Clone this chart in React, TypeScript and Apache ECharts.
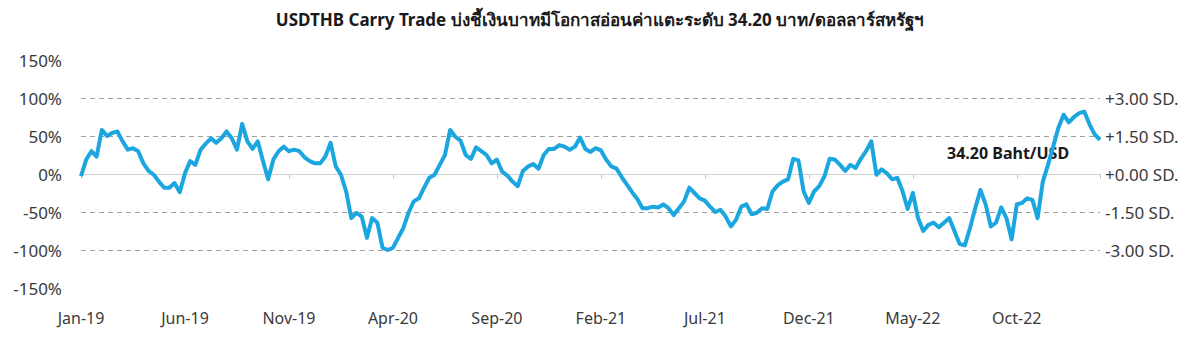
import React, { useEffect, useRef } from "react";
import * as echarts from "echarts";

const TITLE = "USDTHB Carry Trade บ่งชี้เงินบาทมีโอกาสอ่อนค่าแตะระดับ 34.20 บาท/ดอลลาร์สหรัฐฯ";
const ANNOTATION = "34.20 Baht/USD";

// x axis: months since Jan-19, sampled four times per month
const POINTS_PER_MONTH = 4;
const X_MAX_MONTHS = 49;
const MONTH_TICK_STEP = 5;
const monthTickLabels = ["Jan-19", "Jun-19", "Nov-19", "Apr-20", "Sep-20", "Feb-21", "Jul-21", "Dec-21", "May-22", "Oct-22"];

// y axis
const yTickValues = [-150, -100, -50, 0, 50, 100, 150];
const leftTickLabels = ["-150%", "-100%", "-50%", "0%", "50%", "100%", "150%"];
const rightTickLabels = ["", "-3.00 SD.", "-1.50 SD.", "+0.00 SD.", "+1.50 SD.", "+3.00 SD.", ""];
const dashedGridValues = [-100, -50, 50, 100];

// Carry trade index (%)
const carry2019a = [-3, 19, 30, 23, 58, 50, 54, 56, 43, 32, 34, 30, 14, 4, -1, -10, -18, -18, -12, -24, 1, 17, 12, 32, 40];
const carry2019b = [47, 41, 47, 56, 47, 32, 66, 43, 33, 43, 17, -7, 19, 30, 36, 30, 32, 30, 22, 17, 14, 14, 23, 41];
const carry2020a = [10, -1, -23, -58, -51, -56, -84, -58, -64, -97, -100, -97, -84, -71, -51, -36, -32, -18, -5, -1, 12, 25, 58, 49];
const carry2020b = [44, 25, 20, 35, 30, 25, 14, 19, 3, -2, -10, -16, 4, 10, 13, 7, 25, 33, 33, 38, 36, 32, 36, 48];
const carry2021a = [33, 29, 34, 31, 19, 10, 7, -4, -14, -24, -33, -45, -45, -43, -44, -40, -45, -54, -45, -36, -18, -25, -32, -35];
const carry2021b = [-43, -50, -47, -56, -69, -60, -43, -40, -53, -51, -45, -46, -23, -15, -10, -7, 20, 18, -23, -38, -23, -16, -3, 20];
const carry2022a = [19, 12, 4, 12, 8, 20, 30, 43, -1, 6, 1, -7, -5, -22, -46, -25, -58, -75, -67, -64, -70, -64, -58, -75];
const carry2022b = [-92, -94, -71, -45, -21, -40, -69, -64, -44, -58, -86, -40, -38, -32, -34, -58, -10, 12, 36, 61, 78, 68, 75, 80, 82, 65, 52, 45];

const carryValues = [
  ...carry2019a, ...carry2019b, ...carry2020a, ...carry2020b,
  ...carry2021a, ...carry2021b, ...carry2022a, ...carry2022b,
];

const FONT = "'Noto Sans', 'DejaVu Sans', sans-serif";
const LABEL_COLOR = "#3a3a3a";
const LINE_COLOR = "#1ba6e0";

export default function App() {
  const ref = useRef<HTMLDivElement>(null);

  useEffect(() => {
    if (!ref.current) return;
    const chart = echarts.init(ref.current, null, { renderer: "svg" });
    const seriesData = carryValues.map((v, i) => [i / POINTS_PER_MONTH, v]);
    const tickLabel = (labels: string[]) => (v: number) => {
      const idx = yTickValues.indexOf(v);
      return idx >= 0 ? labels[idx] : "";
    };

    chart.setOption({
      animation: false,
      backgroundColor: "#ffffff",
      title: {
        text: TITLE,
        left: "center",
        top: 6,
        textStyle: { fontFamily: FONT, fontSize: 17, fontWeight: "bold", color: "#1a1a1a" },
      },
      grid: { left: 81, right: 100, top: 60, bottom: 60, containLabel: false },
      xAxis: [
        {
          type: "value",
          min: 0,
          max: X_MAX_MONTHS,
          interval: MONTH_TICK_STEP,
          position: "bottom",
          axisLine: { show: false, onZero: false },
          axisTick: { show: false },
          splitLine: { show: false },
          axisLabel: {
            fontFamily: FONT,
            fontSize: 16,
            color: LABEL_COLOR,
            margin: 22,
            showMaxLabel: false,
            formatter: (v: number) => (v % MONTH_TICK_STEP === 0 ? monthTickLabels[v / MONTH_TICK_STEP] ?? "" : ""),
          },
        },
        {
          type: "value",
          min: 0,
          max: X_MAX_MONTHS,
          interval: MONTH_TICK_STEP,
          position: "top",
          axisLine: { show: true, onZero: true, lineStyle: { color: "#d0d0d0", width: 1 } },
          axisTick: { show: true, inside: true, length: 5, lineStyle: { color: "#c8c8c8" } },
          axisLabel: { show: false },
          splitLine: { show: false },
        },
      ],
      yAxis: [
        {
          type: "value",
          min: -150,
          max: 150,
          interval: 50,
          position: "left",
          axisLine: { show: false, onZero: false },
          axisTick: { show: false },
          splitLine: { show: false },
          axisLabel: { fontFamily: FONT, fontSize: 17, color: LABEL_COLOR, margin: 19, formatter: tickLabel(leftTickLabels) },
        },
        {
          type: "value",
          min: -150,
          max: 150,
          interval: 50,
          position: "right",
          axisLine: { show: false, onZero: false },
          axisTick: { show: false },
          splitLine: { show: false },
          axisLabel: { fontFamily: FONT, fontSize: 17, color: LABEL_COLOR, margin: 5, formatter: tickLabel(rightTickLabels) },
        },
      ],
      graphic: [
        {
          type: "text",
          left: 947,
          top: 145,
          z: 1,
          style: { text: ANNOTATION, font: `bold 16px ${FONT}`, fill: "#1a1a1a" },
        },
      ],
      series: [
        {
          type: "line",
          xAxisIndex: 0,
          yAxisIndex: 0,
          data: seriesData,
          showSymbol: false,
          symbol: "none",
          z: 5,
          lineStyle: { color: LINE_COLOR, width: 4, join: "round" },
          markLine: {
            silent: true,
            symbol: "none",
            label: { show: false },
            lineStyle: { color: "#a0a0a0", width: 1, type: [5, 4] },
            data: dashedGridValues.map((v) => ({ yAxis: v })),
            z: 1,
          },
        },
      ],
    });
    return () => chart.dispose();
  }, []);

  return <div ref={ref} style={{ position: "fixed", left: 0, top: 0, width: 1200, height: 348 }} />;
}
